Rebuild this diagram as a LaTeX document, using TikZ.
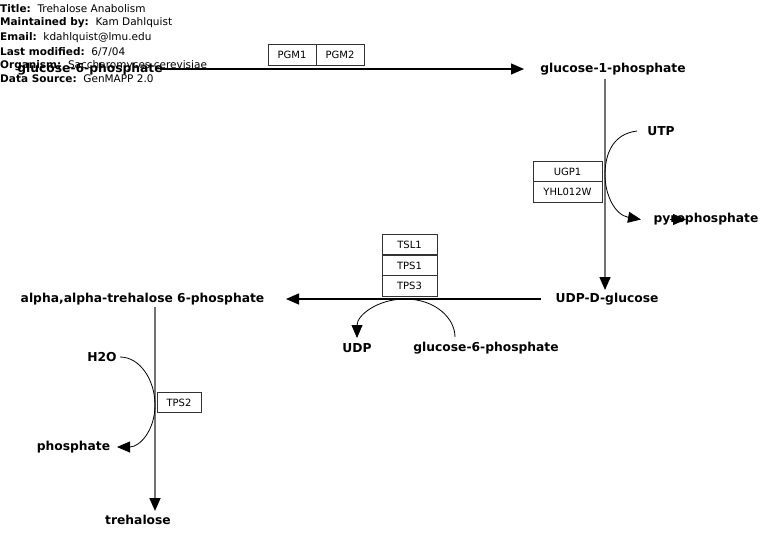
\documentclass[tikz,border=0pt]{standalone}
\usepackage{fontspec}
\setmainfont{DejaVu Sans}
\usetikzlibrary{arrows.meta}
\begin{document}
\begin{tikzpicture}[x=1pt,y=-1pt,
  met/.style={font=\fontsize{12.3}{14}\selectfont\bfseries, inner sep=0pt},
  gene/.style={draw=black!80, line width=0.8pt, minimum height=20.5pt, inner sep=0pt, font=\fontsize{10}{11}\selectfont},
  hdr/.style={anchor=west, inner sep=0pt, font=\fontsize{10.5}{12}\selectfont},
  tip/.style={-{Triangle[length=13pt,width=11pt,color=black]}},
  rxn/.style={line width=1.2pt, tip},
  vrxn/.style={line width=1.6pt, draw=black!55, tip},
  side/.style={line width=0.8pt, tip}]
\useasboundingbox (0,0) rectangle (784,544);
% header
\node[hdr] (h1) at (0,8.5) {\textbf{Title:}\ \ Trehalose Anabolism};
\node[hdr] (h2) at (0,23) {\textbf{Maintained by:}\ \ Kam Dahlquist};
\node[hdr] (h3) at (0,37.5) {\textbf{Email:}\ \ kdahlquist@lmu.edu};
\node[hdr] (h4) at (0,52) {\textbf{Last modified:}\ \ 6/7/04};
\node[hdr] (h5) at (0,66) {\textbf{Organism:}\ \ Saccharomyces cerevisiae};
\node[hdr] (h6) at (0,78.5) {\textbf{Data Source:}\ \ GenMAPP 2.0};
% metabolites
\node[met] (g6p) at (90,69) {glucose-6-phosphate};
\node[met] (g1p) at (613,69) {glucose-1-phosphate};
\node[met] (utp) at (661,131) {UTP};
\node[met] (ppi) at (706,219.5) {pyrophosphate};
\node[met] (udpg) at (607,299) {UDP-D-glucose};
\node[met] (t6p) at (142.5,299) {alpha,alpha-trehalose 6-phosphate};
\node[met] (udp) at (357,348) {UDP};
\node[met] (g6pb) at (486,348) {glucose-6-phosphate};
\node[met] (h2o) at (102,357) {H2O};
\node[met] (pi) at (73.5,447) {phosphate};
\node[met] (tre) at (138,519.5) {trehalose};
% genes
\node[gene, minimum width=48pt] (pgm1) at (292,55) {PGM1};
\node[gene, minimum width=48pt] (pgm2) at (340,55) {PGM2};
\node[gene, minimum width=69pt] (ugp1) at (567.5,171.5) {UGP1};
\node[gene, minimum width=69pt] (yhl) at (567.5,192) {YHL012W};
\node[gene, minimum width=55pt] (tsl1) at (409.5,244.5) {TSL1};
\node[gene, minimum width=55pt] (tps1) at (409.5,265.5) {TPS1};
\node[gene, minimum width=55pt] (tps3) at (409.5,286) {TPS3};
\node[gene, minimum width=44pt] (tps2) at (179,402.5) {TPS2};
% reaction anchor points
\coordinate (a1s) at (160,69);
\coordinate (a1e) at (524,69);
\coordinate (a2s) at (605,79);
\coordinate (a2e) at (605,290);
\coordinate (a3s) at (541,299);
\coordinate (a3e) at (286,299);
\coordinate (a4s) at (155,307);
\coordinate (a4e) at (155,511);
\coordinate (c2) at (605,175);
\coordinate (c3) at (405,299);
\coordinate (c4) at (155,405);
\coordinate (utpe) at (637,131);
\coordinate (ppie) at (641,219.5);
\coordinate (udpe) at (357,338);
\coordinate (g6pe) at (455,337);
\coordinate (h2oe) at (120,357);
\coordinate (pie) at (117,447);
\coordinate (xs) at (670,219.5);
\coordinate (xe) at (686,219.5);
% main reactions
\draw[rxn] (a1s) -- (a1e);
\draw[vrxn] (a2s) -- (a2e);
\draw[rxn] (a3s) -- (a3e);
\draw[vrxn] (a4s) -- (a4e);
% side reactions
\draw[line width=0.8pt] (utpe) .. controls (612,134) and (605,155) .. (c2);
\draw[side] (c2) .. controls (605,195) and (615,215) .. (ppie);
\draw[line width=0.8pt] (g6pe) .. controls (455,318) and (435,299) .. (c3);
\draw[side] (c3) .. controls (378,299) and (357,315) .. (udpe);
\draw[line width=0.8pt] (h2oe) .. controls (140,357) and (155,380) .. (c4);
\draw[side] (c4) .. controls (155,430) and (140,447) .. (pie);
\draw[side] (xs) -- (xe);
\end{tikzpicture}
\end{document}
